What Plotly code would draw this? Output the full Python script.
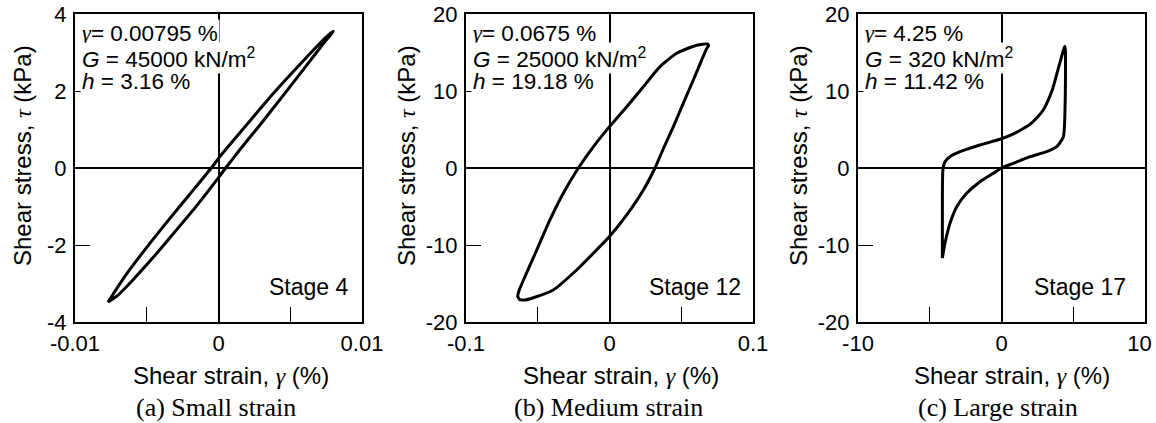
import plotly.graph_objects as go

W, H = 1156, 423
M_T, M_B = 14, 101

# ---- (a) Small strain, Stage 4 ----
a_down_strain = [0.0080, 0.0075, 0.0065, 0.0050, 0.0035, 0.0020, 0.0005, 0.0, -0.0005,
                 -0.0020, -0.0035, -0.0050, -0.0065, -0.0077]
a_down_stress = [3.55, 3.40, 3.02, 2.42, 1.80, 1.14, 0.48, 0.25, 0.0,
                 -0.68, -1.36, -2.06, -2.80, -3.48]
a_up_strain = [-0.0077, -0.0070, -0.0060, -0.0045, -0.0030, -0.0015, 0.0, 0.0005,
               0.0015, 0.0030, 0.0045, 0.0060, 0.0072, 0.0080]
a_up_stress = [-3.48, -3.30, -2.92, -2.30, -1.64, -0.97, -0.25, 0.0,
               0.48, 1.17, 1.88, 2.60, 3.18, 3.55]

# ---- (b) Medium strain, Stage 12 ----
b_down_strain = [0.0685, 0.0608, 0.0468, 0.0352, 0.0236, 0.0120, 0.0, -0.0113, -0.0217,
                 -0.0322, -0.0415, -0.0507, -0.0589, -0.0630, -0.0640, -0.0625]
b_down_stress = [16.1, 15.95, 14.9, 13.16, 10.56, 7.96, 5.37, 2.75, 0.0,
                 -3.29, -6.75, -10.65, -14.1, -15.9, -16.7, -17.1]
b_up_strain = [-0.0625, -0.0590, -0.0531, -0.0392, -0.0229, -0.0113, 0.0, 0.0120, 0.0236,
               0.0317, 0.0375, 0.0445, 0.0514, 0.0584, 0.0642, 0.0677, 0.0690, 0.0685]
b_up_stress = [-17.1, -17.15, -16.85, -15.84, -13.25, -11.08, -8.9, -6.1, -2.86,
               0.0, 2.5, 5.37, 8.4, 11.43, 14.0, 15.5, 15.9, 16.1]

# ---- (c) Large strain, Stage 17 ----
c_down_strain = [4.40, 4.15, 3.85, 3.55, 3.20, 2.90, 2.45, 2.00, 1.40, 0.80, 0.0,
                 -1.50, -2.89, -3.59, -3.94, -4.08, -4.12, -4.12]
c_down_stress = [15.8, 14.2, 12.2, 10.2, 8.6, 7.5, 6.5, 5.7, 5.0, 4.4, 3.8,
                 2.99, 2.12, 1.47, 0.82, -0.2, -6.0, -11.7]
c_up_strain = [-4.12, -3.94, -3.59, -3.12, -2.43, -1.50, -0.57, 0.0, 0.82, 1.99, 3.15,
               3.85, 4.31, 4.43, 4.45, 4.40]
c_up_stress = [-11.7, -9.78, -7.19, -5.03, -3.29, -1.78, -0.69, 0.0, 0.61, 1.47, 2.12,
               2.77, 4.07, 8.0, 15.3, 15.8]

x_ranges = [[-0.01, 0.01], [-0.1, 0.1], [-10, 10]]
x_ticks = [[-0.01, 0, 0.01], [-0.1, 0, 0.1], [-10, 0, 10]]
# the last label of the right-hand panel is nudged inward to stay on the page
x_ticktext = [["-0.01", "0", "0.01"], ["-0.1", "0", "0.1"], ["-10", "0", "10\u2002"]]
x_minor = [[-0.005, 0.005], [-0.05, 0.05], [-5, 5]]
y_ranges = [[-4, 4], [-20, 20], [-20, 20]]
y_ticks = [[-4, -2, 0, 2, 4], [-20, -10, 0, 10, 20], [-20, -10, 0, 10, 20]]
y_ticktext = [["-4", "-2", "0", "2", "4"], ["-20", "-10", "0", "10", "20"], ["-20", "-10", "0", "10", "20"]]

gamma_txt = ["0.00795", "0.0675", "4.25"]
G_txt = ["45000", "25000", "320"]
h_txt = ["3.16", "19.18", "11.42"]
stage_txt = ["Stage 4", "Stage 12", "Stage 17"]
caption_txt = ["(a) Small strain", "(b) Medium strain", "(c) Large strain"]

loops = [
    (a_down_strain + a_up_strain, a_down_stress + a_up_stress),
    (b_down_strain + b_up_strain, b_down_stress + b_up_stress),
    (c_down_strain + c_up_strain, c_down_stress + c_up_stress),
]

# panel frames in pixels (left, right)
frames = [(75, 362), (466, 753), (858, 1145)]
plot_top, plot_bot = M_T, H - M_B

SANS = "Liberation Sans, Arial, Helvetica, sans-serif"
SERIF = "Liberation Serif, Times New Roman, serif"
GREEK = "<span style=\"font-family:'Liberation Serif',serif\"><i>%s</i></span>"


def px_x(px):
    return px / W


def px_y(py):
    return (plot_bot - py) / (plot_bot - plot_top)


fig = go.Figure()
for i, (xs, ys) in enumerate(loops):
    sfx = "" if i == 0 else str(i + 1)
    fig.add_trace(go.Scatter(
        x=xs, y=ys, mode="lines",
        line=dict(color="black", width=3, shape="spline", smoothing=0.6),
        xaxis="x" + sfx, yaxis="y" + sfx, showlegend=False, hoverinfo="skip",
    ))
    l, r = frames[i]
    common = dict(showline=True, linewidth=2, linecolor="black", mirror=True,
                  showgrid=False, zeroline=True, zerolinewidth=2, zerolinecolor="black",
                  ticks="inside", ticklen=15, tickwidth=1, tickcolor="black",
                  tickfont=dict(family=SANS, size=22, color="black"), tickmode="array",
                  automargin=False, ticklabeloverflow="allow")
    fig.update_layout(**{
        "xaxis" + sfx: dict(domain=[l / W, r / W], range=x_ranges[i], anchor="y" + sfx,
                            tickvals=x_ticks[i], ticktext=x_ticktext[i],
                            minor=dict(tickmode="array", tickvals=x_minor[i], ticks="inside",
                                       ticklen=15, tickwidth=1, tickcolor="black",
                                       showgrid=False),
                            ticklabelstandoff=1, **common),
        "yaxis" + sfx: dict(domain=[0, 1], range=y_ranges[i], anchor="x" + sfx,
                            tickvals=y_ticks[i], ticktext=y_ticktext[i],
                            ticklabelstandoff=2, **common),
    })

    # parameter block, one boxed line each
    lines = [
        (GREEK % "γ") + "= %s %%" % gamma_txt[i],
        "<i>G</i> = %s kN/m<sup>2</sup>" % G_txt[i],
        "<i>h</i> = %s %%" % h_txt[i],
    ]
    for k, t in enumerate(lines):
        fig.add_annotation(x=px_x(l + 5), y=px_y(33 + 24.5 * k), xref="paper", yref="paper",
                           text=t, showarrow=False, xanchor="left", yanchor="middle",
                           font=dict(family=SANS, size=22.5, color="black"),
                           bgcolor="white", borderpad=1)

    stage_right = [350, 743, 1128][i]
    fig.add_annotation(x=px_x(stage_right), y=px_y(287), xref="paper", yref="paper",
                       text=stage_txt[i], showarrow=False, xanchor="right", yanchor="middle",
                       font=dict(family=SANS, size=23, color="black"))

    xt_c = [231, 621, 1012][i]
    fig.add_annotation(x=px_x(xt_c), y=px_y(375), xref="paper", yref="paper",
                       text="Shear strain, " + (GREEK % "γ") + " (%)", showarrow=False,
                       xanchor="center", yanchor="middle",
                       font=dict(family=SANS, size=24, color="black"))

    cap_c = [216, 608, 998][i]
    fig.add_annotation(x=px_x(cap_c), y=px_y(407), xref="paper", yref="paper",
                       text=caption_txt[i], showarrow=False,
                       xanchor="center", yanchor="middle",
                       font=dict(family=SERIF, size=26, color="black"))

    yt_c = [22, 406, 798][i]
    fig.add_annotation(x=px_x(yt_c), y=px_y(156), xref="paper", yref="paper",
                       text="Shear stress, " + (GREEK % "τ") + " (kPa)", showarrow=False,
                       textangle=-90, xanchor="center", yanchor="middle",
                       font=dict(family=SANS, size=24, color="black"))

fig.update_layout(
    width=W, height=H,
    margin=dict(l=0, r=0, t=M_T, b=M_B, autoexpand=False),
    paper_bgcolor="white", plot_bgcolor="white",
    showlegend=False,
)

fig.write_html("out.html")
